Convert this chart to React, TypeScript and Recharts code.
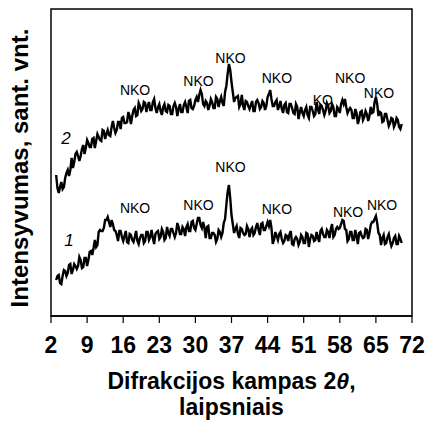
import React from 'react'
import { LineChart, Line, XAxis, YAxis, ReferenceArea, ReferenceDot } from 'recharts'

// Diffraction angle 2θ, degrees (0.25° step)
const angles = [
  3, 3.25, 3.5, 3.75, 4, 4.25, 4.5, 4.75, 5, 5.25, 5.5, 5.75, 6, 6.25, 6.5, 6.75,
  7, 7.25, 7.5, 7.75, 8, 8.25, 8.5, 8.75, 9, 9.25, 9.5, 9.75, 10, 10.25, 10.5, 10.75,
  11, 11.25, 11.5, 11.75, 12, 12.25, 12.5, 12.75, 13, 13.25, 13.5, 13.75, 14, 14.25, 14.5, 14.75,
  15, 15.25, 15.5, 15.75, 16, 16.25, 16.5, 16.75, 17, 17.25, 17.5, 17.75, 18, 18.25, 18.5, 18.75,
  19, 19.25, 19.5, 19.75, 20, 20.25, 20.5, 20.75, 21, 21.25, 21.5, 21.75, 22, 22.25, 22.5, 22.75,
  23, 23.25, 23.5, 23.75, 24, 24.25, 24.5, 24.75, 25, 25.25, 25.5, 25.75, 26, 26.25, 26.5, 26.75,
  27, 27.25, 27.5, 27.75, 28, 28.25, 28.5, 28.75, 29, 29.25, 29.5, 29.75, 30, 30.25, 30.5, 30.75,
  31, 31.25, 31.5, 31.75, 32, 32.25, 32.5, 32.75, 33, 33.25, 33.5, 33.75, 34, 34.25, 34.5, 34.75,
  35, 35.25, 35.5, 35.75, 36, 36.25, 36.5, 36.75, 37, 37.25, 37.5, 37.75, 38, 38.25, 38.5, 38.75,
  39, 39.25, 39.5, 39.75, 40, 40.25, 40.5, 40.75, 41, 41.25, 41.5, 41.75, 42, 42.25, 42.5, 42.75,
  43, 43.25, 43.5, 43.75, 44, 44.25, 44.5, 44.75, 45, 45.25, 45.5, 45.75, 46, 46.25, 46.5, 46.75,
  47, 47.25, 47.5, 47.75, 48, 48.25, 48.5, 48.75, 49, 49.25, 49.5, 49.75, 50, 50.25, 50.5, 50.75,
  51, 51.25, 51.5, 51.75, 52, 52.25, 52.5, 52.75, 53, 53.25, 53.5, 53.75, 54, 54.25, 54.5, 54.75,
  55, 55.25, 55.5, 55.75, 56, 56.25, 56.5, 56.75, 57, 57.25, 57.5, 57.75, 58, 58.25, 58.5, 58.75,
  59, 59.25, 59.5, 59.75, 60, 60.25, 60.5, 60.75, 61, 61.25, 61.5, 61.75, 62, 62.25, 62.5, 62.75,
  63, 63.25, 63.5, 63.75, 64, 64.25, 64.5, 64.75, 65, 65.25, 65.5, 65.75, 66, 66.25, 66.5, 66.75,
  67, 67.25, 67.5, 67.75, 68, 68.25, 68.5, 68.75, 69, 69.25, 69.5, 69.75, 70,
]

// Sample 1 intensity, arbitrary units
const sample1 = [
  36, 40, 41, 33, 32, 40, 46, 45, 40, 43, 51, 52, 42, 46, 52, 50,
  47, 50, 59, 56, 48, 49, 58, 58, 50, 56, 64, 65, 61, 68, 76, 69,
  71, 84, 86, 85, 85, 88, 96, 96, 99, 94, 89, 96, 92, 86, 85, 81,
  75, 85, 85, 79, 75, 80, 85, 74, 73, 82, 81, 76, 74, 79, 85, 75,
  72, 78, 81, 81, 73, 75, 84, 84, 76, 79, 86, 78, 72, 82, 84, 85,
  77, 79, 87, 84, 76, 78, 89, 83, 80, 87, 87, 83, 79, 83, 93, 89,
  82, 82, 89, 87, 80, 89, 92, 85, 85, 94, 95, 88, 86, 92, 98, 98,
  91, 88, 94, 88, 78, 89, 90, 78, 78, 83, 83, 81, 74, 77, 86, 84,
  79, 83, 93, 97, 111, 124, 131, 118, 101, 92, 83, 87, 90, 82, 78, 88,
  87, 83, 81, 82, 90, 87, 79, 86, 88, 81, 83, 89, 93, 86, 81, 92,
  93, 86, 86, 90, 94, 90, 96, 88, 72, 76, 84, 80, 76, 82, 84, 77,
  73, 75, 81, 80, 75, 82, 85, 72, 71, 77, 79, 77, 71, 74, 81, 79,
  73, 73, 83, 82, 69, 77, 81, 80, 75, 76, 84, 78, 74, 85, 87, 82,
  79, 79, 86, 84, 78, 87, 92, 79, 81, 87, 89, 87, 88, 92, 96, 95,
  87, 86, 75, 77, 84, 84, 76, 76, 86, 80, 72, 83, 84, 80, 78, 79,
  87, 86, 77, 83, 91, 94, 94, 97, 100, 93, 83, 81, 71, 78, 81, 72,
  73, 79, 82, 75, 70, 73, 78, 80, 72, 72, 80, 77, 73,
]

// Sample 2 intensity, arbitrary units
const sample2 = [
  141, 128, 123, 129, 134, 127, 129, 138, 143, 146, 140, 146, 158, 148, 154, 162,
  164, 160, 155, 160, 167, 171, 162, 168, 176, 173, 169, 169, 177, 178, 168, 175,
  182, 179, 176, 175, 186, 185, 177, 182, 186, 181, 180, 189, 195, 188, 183, 186,
  194, 194, 187, 198, 199, 193, 193, 194, 204, 200, 192, 200, 206, 208, 200, 201,
  213, 210, 205, 207, 214, 213, 204, 210, 214, 206, 206, 214, 217, 208, 203, 209,
  212, 205, 201, 209, 212, 205, 204, 211, 210, 202, 202, 210, 213, 209, 200, 207,
  212, 204, 204, 211, 214, 209, 203, 215, 216, 208, 207, 210, 216, 219, 214, 221,
  226, 222, 212, 210, 215, 213, 206, 210, 217, 214, 208, 208, 219, 217, 209, 215,
  219, 213, 210, 224, 230, 242, 252, 246, 234, 224, 214, 218, 219, 220, 209, 212,
  221, 210, 206, 215, 214, 210, 207, 211, 215, 205, 205, 214, 216, 213, 207, 209,
  215, 213, 206, 210, 219, 222, 226, 217, 210, 210, 214, 216, 206, 210, 215, 207,
  203, 211, 213, 204, 203, 212, 212, 208, 203, 202, 212, 209, 197, 204, 209, 203,
  200, 206, 209, 201, 198, 209, 209, 205, 200, 202, 214, 207, 202, 211, 210, 206,
  201, 205, 213, 210, 203, 205, 212, 209, 200, 200, 209, 207, 203, 212, 216, 212,
  217, 209, 203, 206, 208, 206, 198, 198, 207, 203, 192, 197, 204, 205, 196, 199,
  205, 202, 195, 200, 209, 203, 204, 214, 219, 212, 200, 204, 203, 194, 195, 202,
  202, 196, 190, 193, 198, 197, 189, 192, 198, 196, 189, 187, 192,
]

// Phase marks: [2θ, intensity, text]
const marks1: [number, number, string][] = [
  [18.3, 108, 'NKO'],
  [30.6, 111, 'NKO'],
  [36.8, 149, 'NKO'],
  [45.8, 107, 'NKO'],
  [59.6, 104, 'NKO'],
  [66.2, 111, 'NKO'],
]
const marks2: [number, number, string][] = [
  [18.3, 226, 'NKO'],
  [30.6, 235, 'NKO'],
  [36.8, 258, 'NKO'],
  [45.8, 238, 'NKO'],
  [54.7, 216, 'KO'],
  [60.0, 238, 'NKO'],
  [65.6, 223, 'NKO'],
]
const curveNames: [number, number, string][] = [
  [5.5, 76, '1'],
  [4.9, 178, '2'],
]

const xTicks = [2, 9, 16, 23, 30, 37, 44, 51, 58, 65, 72]

const FONT = 'Arial, "Liberation Sans", sans-serif'

const data = angles.map((a, i) => ({ angle: a, s1: sample1[i], s2: sample2[i] }))

function markDot(m: [number, number, string], key: string, italic = false, size = 14) {
  return (
    <ReferenceDot
      key={key}
      x={m[0]}
      y={m[1]}
      r={1}
      fill="none"
      stroke="none"
      label={{
        value: m[2],
        position: 'center',
        fill: '#000',
        fontSize: size,
        fontFamily: FONT,
        fontStyle: italic ? 'italic' : 'normal',
      }}
    />
  )
}

function AngleTick(props: any) {
  const { x, y, payload } = props
  return (
    <text
      x={x}
      y={y}
      dy="0.71em"
      textAnchor="middle"
      fill="#000"
      fontSize={23}
      fontWeight="bold"
      fontFamily={FONT}
    >
      {payload.value}
    </text>
  )
}

const titleLine: React.CSSProperties = {
  position: 'absolute',
  left: 51,
  width: 361,
  textAlign: 'center',
  fontFamily: FONT,
  fontWeight: 'bold',
  fontSize: 23,
  lineHeight: '20px',
  height: 20,
  whiteSpace: 'nowrap',
}

export default function App() {
  return (
    <div style={{ position: 'absolute', left: 0, top: 0, width: 429, height: 421, background: '#fff' }}>
      <LineChart width={429} height={421} data={data} margin={{ top: 9, right: 17, bottom: 75, left: 51 }}>
        <XAxis
          dataKey="angle"
          type="number"
          domain={[2, 72]}
          ticks={xTicks}
          height={30}
          tickSize={7}
          tickMargin={14}
          interval={0}
          minTickGap={0}
          axisLine={{ stroke: '#000', strokeWidth: 1.5 }}
          tickLine={{ stroke: '#000', strokeWidth: 1.2 }}
          tick={<AngleTick />}
        />
        <YAxis hide type="number" domain={[0, 307]} allowDataOverflow />
        <ReferenceArea x1={2} x2={72} y1={0} y2={307} fill="none" stroke="#000" strokeWidth={1.5} />
        <Line type="linear" dataKey="s1" stroke="#000" strokeWidth={2.4} dot={false} isAnimationActive={false} />
        <Line type="linear" dataKey="s2" stroke="#000" strokeWidth={2.4} dot={false} isAnimationActive={false} />
        {marks1.map((m, i) => markDot(m, 'a' + i))}
        {marks2.map((m, i) => markDot(m, 'b' + i))}
        {curveNames.map((m, i) => markDot(m, 'c' + i, true, 17))}
      </LineChart>
      <div
        style={{
          position: 'absolute',
          left: 20,
          top: 168,
          transform: 'translate(-50%, -50%) rotate(-90deg)',
          whiteSpace: 'nowrap',
          fontFamily: FONT,
          fontWeight: 'bold',
          fontSize: 24,
          lineHeight: 1.117,
        }}
      >
        Intensyvumas, sant. vnt.
      </div>
      <div style={{ ...titleLine, top: 371 }}>
        Difrakcijos kampas 2<i>θ</i>,
      </div>
      <div style={{ ...titleLine, top: 397 }}>laipsniais</div>
    </div>
  )
}
